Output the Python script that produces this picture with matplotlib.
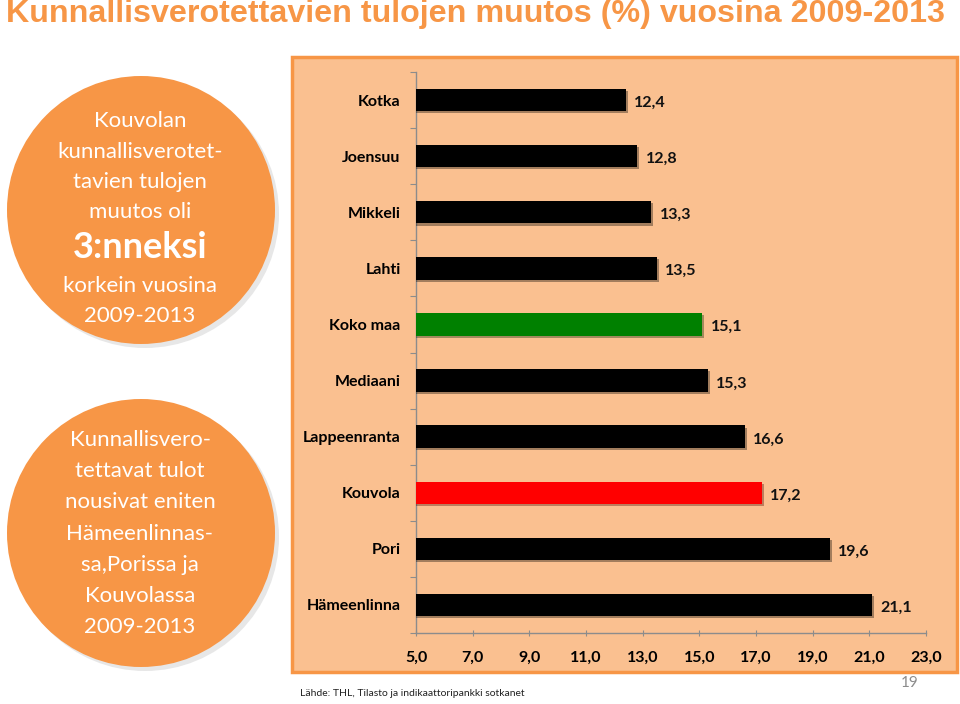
import numpy as np
import matplotlib
matplotlib.use('Agg')
import matplotlib.pyplot as plt
from matplotlib.patches import Rectangle, Circle
import matplotlib.patheffects as pe

plt.rcParams['font.family'] = ['Lato', 'DejaVu Sans']

# data
cities = ['Kotka', 'Joensuu', 'Mikkeli', 'Lahti', 'Koko maa', 'Mediaani',
          'Lappeenranta', 'Kouvola', 'Pori', 'Hämeenlinna']
values = [12.4, 12.8, 13.3, 13.5, 15.1, 15.3, 16.6, 17.2, 19.6, 21.1]
bar_colors = ['#000000', '#000000', '#000000', '#000000', '#008000', '#000000',
              '#000000', '#FF0000', '#000000', '#000000']
xticks = [5, 7, 9, 11, 13, 15, 17, 19, 21, 23]

ORANGE = '#F79646'; PEACH = '#FAC090'; AXGRAY = '#8C8C8C'

fig = plt.figure(figsize=(9.6, 7.04), dpi=100)

# background layer in pixel coordinates
bg = fig.add_axes([0, 0, 1, 1], zorder=0)
bg.set_xlim(0, 960); bg.set_ylim(704, 0); bg.axis('off')

bg.add_patch(Rectangle((292, 57), 665, 615, facecolor=PEACH, edgecolor=ORANGE, lw=2.5))

for cy in (210, 533):
    bg.add_patch(Circle((145, cy + 4), 134, facecolor='#BBBBBB', alpha=0.35, edgecolor='none'))
    bg.add_patch(Circle((141, cy), 134, facecolor=ORANGE, edgecolor='none'))

bg.text(475, 14, 'Kunnallisverotettavien tulojen muutos (%) vuosina 2009-2013',
        ha='center', va='center', fontsize=23.2, fontweight='bold',
        color=ORANGE, family=['Liberation Sans', 'DejaVu Sans'])

lines1 = [('Kouvolan', 121, False), ('kunnallisverotet-', 152, False),
          ('tavien tulojen', 182, False), ('muutos oli', 212, False),
          ('3:nneksi', 247, True), ('korkein vuosina', 286, False),
          ('2009-2013', 316, False)]
for t, y, b in lines1:
    bg.text(140, y, t, ha='center', va='center', color='white',
            fontsize=26 if b else 16, fontweight='bold' if b else 'normal')

lines2 = ['Kunnallisvero-', 'tettavat tulot', 'nousivat eniten', 'Hämeenlinnas-',
          'sa,Porissa ja', 'Kouvolassa', '2009-2013']
for i, t in enumerate(lines2):
    bg.text(140, 440 + i * 31.2, t, ha='center', va='center', color='white', fontsize=16)

bg.text(300, 693, 'Lähde: THL, Tilasto ja indikaattoripankki sotkanet',
        ha='left', va='center', fontsize=7.5, color='#222222')
bg.text(910, 683, '19', ha='center', va='center', fontsize=11, color='#8C8C8C')

# chart
ax = fig.add_axes([416 / 960, 1 - 633 / 704, 510 / 960, (633 - 72) / 704], zorder=1)
ax.patch.set_alpha(0)
y = np.arange(len(cities))
bars = ax.barh(y, values, height=0.4, color=bar_colors, zorder=3)
for b in bars:
    b.set_path_effects([pe.SimplePatchShadow(offset=(1.5, -1.5), alpha=0.35), pe.Normal()])
ax.set_xlim(5, 23)
ax.set_ylim(len(cities) - 0.5, -0.5)

for yi, v in zip(y, values):
    ax.text(v + 0.3, yi + 0.05, f'{v:.1f}'.replace('.', ','), ha='left', va='center',
            fontsize=11.5, fontweight='bold', color='#111111')

ax.set_yticks(np.arange(-0.5, len(cities), 1))
ax.set_yticklabels([])
ax.set_yticks(y, minor=True)
ax.set_yticklabels(cities, minor=True, fontsize=11.5, fontweight='bold')
ax.tick_params(axis='y', which='minor', length=0, pad=11)
ax.tick_params(axis='y', which='major', length=4, color=AXGRAY, direction='out')

ax.set_xticks(xticks)
ax.set_xticklabels([f'{t:.1f}'.replace('.', ',') for t in xticks], fontsize=11.5, fontweight='bold')
ax.tick_params(axis='x', length=5, color=AXGRAY, direction='inout', pad=10)

for s in ('top', 'right'):
    ax.spines[s].set_visible(False)
for s in ('left', 'bottom'):
    ax.spines[s].set_color(AXGRAY)
    ax.spines[s].set_linewidth(1)

fig.savefig('out.png', dpi=100)
